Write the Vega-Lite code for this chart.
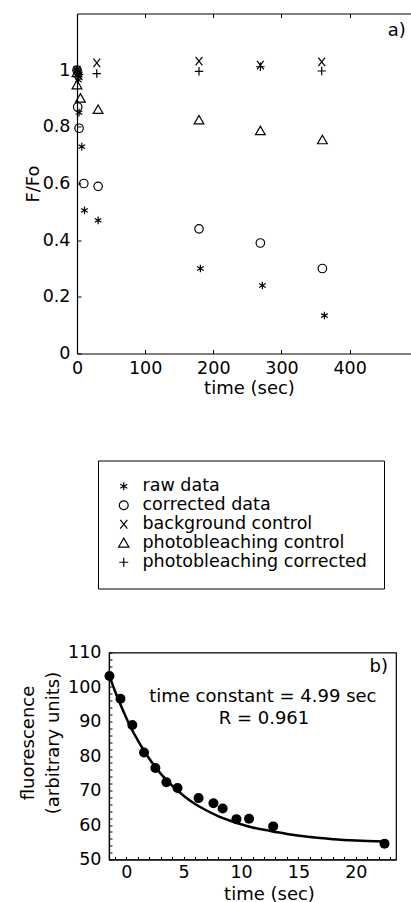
{
  "$schema": "https://vega.github.io/schema/vega-lite/v6.json",
  "background": "white",
  "padding": {"left": 18, "top": 12.5, "right": 0, "bottom": 0},
  "spacing": 245,
  "config": {
    "font": "DejaVu Sans",
    "view": {"stroke": null},
    "axis": {
      "labelFont": "DejaVu Sans", "labelFontSize": 17.5, "labelColor": "black",
      "titleFont": "DejaVu Sans", "titleFontSize": 18, "titleFontWeight": "normal", "titleColor": "black",
      "domainColor": "black", "domainWidth": 1.2, "tickColor": "black", "tickWidth": 1,
      "grid": false, "labelOverlap": false, "labelFlush": false
    }
  },
  "vconcat": [
    {
      "width": 334,
      "height": 340,
      "layer": [
        {
          "data": {"values": [
            {"series": "raw data", "t": 0, "v": 1.0},
            {"series": "raw data", "t": 1, "v": 0.98},
            {"series": "raw data", "t": 2, "v": 0.965},
            {"series": "raw data", "t": 3, "v": 0.85},
            {"series": "raw data", "t": 7, "v": 0.73},
            {"series": "raw data", "t": 11, "v": 0.505},
            {"series": "raw data", "t": 31, "v": 0.47},
            {"series": "raw data", "t": 181, "v": 0.30},
            {"series": "raw data", "t": 272, "v": 0.24},
            {"series": "raw data", "t": 363, "v": 0.134},
            {"series": "corrected data", "t": 0, "v": 1.0},
            {"series": "corrected data", "t": 1, "v": 0.87},
            {"series": "corrected data", "t": 3, "v": 0.795},
            {"series": "corrected data", "t": 10, "v": 0.60},
            {"series": "corrected data", "t": 31, "v": 0.59},
            {"series": "corrected data", "t": 179, "v": 0.44},
            {"series": "corrected data", "t": 269, "v": 0.39},
            {"series": "corrected data", "t": 360, "v": 0.30},
            {"series": "background control", "t": 0, "v": 1.0},
            {"series": "background control", "t": 1, "v": 0.99},
            {"series": "background control", "t": 3, "v": 0.98},
            {"series": "background control", "t": 29, "v": 1.026},
            {"series": "background control", "t": 179, "v": 1.032},
            {"series": "background control", "t": 269, "v": 1.018},
            {"series": "background control", "t": 359, "v": 1.029},
            {"series": "photobleaching control", "t": 0, "v": 0.99},
            {"series": "photobleaching control", "t": 0, "v": 0.947},
            {"series": "photobleaching control", "t": 5, "v": 0.90},
            {"series": "photobleaching control", "t": 31, "v": 0.86},
            {"series": "photobleaching control", "t": 179, "v": 0.823},
            {"series": "photobleaching control", "t": 269, "v": 0.785},
            {"series": "photobleaching control", "t": 360, "v": 0.753},
            {"series": "photobleaching corrected", "t": 0, "v": 1.0},
            {"series": "photobleaching corrected", "t": 1, "v": 0.99},
            {"series": "photobleaching corrected", "t": 3, "v": 0.985},
            {"series": "photobleaching corrected", "t": 29, "v": 0.988},
            {"series": "photobleaching corrected", "t": 179, "v": 0.996},
            {"series": "photobleaching corrected", "t": 269, "v": 1.012},
            {"series": "photobleaching corrected", "t": 359, "v": 0.997}
          ]},
          "mark": {"type": "point", "filled": false, "color": "black", "strokeWidth": 1.2, "size": 72, "opacity": 1},
          "encoding": {
            "x": {
              "field": "t", "type": "quantitative",
              "scale": {"domain": [0, 490], "nice": false, "zero": false},
              "axis": {
                "orient": "bottom", "values": [0, 100, 200, 300, 400], "tickSize": -4, "labelOverlap": false,
                "labelPadding": 10, "title": "time (sec)", "titleX": 172, "titleY": 35, "titleBaseline": "middle"
              }
            },
            "y": {
              "field": "v", "type": "quantitative",
              "scale": {"domain": [0, 1.2], "nice": false, "zero": false},
              "axis": {
                "values": [0, 0.2, 0.4, 0.6, 0.8, 1], "format": "~g", "tickSize": -4, "labelPadding": 11, "labelOverlap": false,
                "title": "F/Fo", "titleX": -44, "titleY": 170, "titleBaseline": "middle", "titleAngle": -90
              }
            },
            "shape": {
              "field": "series", "type": "nominal",
              "scale": {
                "domain": ["raw data", "corrected data", "background control", "photobleaching control", "photobleaching corrected"],
                "range": [
                  "M0,-0.9L0,0.9M-0.78,-0.45L0.78,0.45M-0.78,0.45L0.78,-0.45",
                  "circle",
                  "M-0.8,-1L0.8,1M-0.8,1L0.8,-1",
                  "M0,-1.15L1.15,0.85L-1.15,0.85Z",
                  "M0,-1L0,1M-1,0L1,0"
                ]
              },
              "legend": {
                "orient": "none", "legendX": 21, "legendY": 447, "title": null,
                "strokeColor": "black", "fillColor": "white", "padding": 17,
                "labelFont": "DejaVu Sans", "labelFontSize": 17.5, "labelColor": "black", "labelLimit": 400,
                "labelOffset": 10, "rowPadding": 0,
                "symbolStrokeColor": "black", "symbolStrokeWidth": 1.2, "symbolSize": 80
              }
            }
          }
        },
        {
          "data": {"values": [{"t": 469, "v": 1.14, "label": "a)"}]},
          "mark": {"type": "text", "font": "DejaVu Sans", "fontSize": 18, "color": "black"},
          "encoding": {
            "x": {"field": "t", "type": "quantitative",
                  "axis": {"orient": "top", "values": [100, 200, 300, 400], "labels": false, "title": null, "tickSize": -4}},
            "y": {"field": "v", "type": "quantitative"},
            "text": {"field": "label"}
          }
        }
      ]
    },
    {
      "hconcat": [
        {
          "width": 32,
          "height": 10,
          "data": {"values": [{"label": " "}]},
          "mark": {"type": "text", "color": "white"},
          "encoding": {"text": {"field": "label"}}
        },
        {
          "width": 287,
          "height": 207,
          "view": {"stroke": "black", "strokeWidth": 1.2},
          "encoding": {
            "x": {
              "field": "t", "type": "quantitative",
              "scale": {"domain": [-1.5, 23.5], "nice": false, "zero": false},
              "axis": {
                "values": [-1, 0, 1, 2, 3, 4, 5, 6, 7, 8, 9, 10, 11, 12, 13, 14, 15, 16, 17, 18, 19, 20, 21, 22, 23],
                "labelExpr": "datum.value % 5 === 0 ? datum.label : ''", "labelOverlap": false,
                "tickSize": -3, "labelPadding": 7,
                "title": "time (sec)", "titleX": 160, "titleY": 34.5, "titleBaseline": "middle"
              }
            },
            "y": {
              "field": "f", "type": "quantitative",
              "scale": {"domain": [50, 110], "nice": false, "zero": false},
              "axis": {
                "values": [50, 52, 54, 56, 58, 60, 62, 64, 66, 68, 70, 72, 74, 76, 78, 80, 82, 84, 86, 88, 90, 92, 94, 96, 98, 100, 102, 104, 106, 108, 110],
                "labelExpr": "datum.value % 10 === 0 ? datum.label : ''", "labelOverlap": false,
                "tickSize": -3, "labelPadding": 11,
                "title": ["fluorescence", "(arbitrary units)"], "titleLineHeight": 25,
                "titleX": -81, "titleY": 90, "titleBaseline": "middle", "titleAngle": -90
              }
            }
          },
          "layer": [
            {
              "data": {"values": [
                {"t": -1.5, "f": 103.6}, {"t": -1, "f": 99.0}, {"t": -0.5, "f": 94.9}, {"t": 0, "f": 91.1},
                {"t": 0.5, "f": 87.6}, {"t": 1, "f": 84.6}, {"t": 1.5, "f": 81.8}, {"t": 2, "f": 79.3},
                {"t": 3, "f": 74.9}, {"t": 4, "f": 71.4}, {"t": 5, "f": 68.5}, {"t": 6, "f": 66.1},
                {"t": 7, "f": 64.2}, {"t": 8, "f": 62.6}, {"t": 9, "f": 61.3}, {"t": 10, "f": 60.2},
                {"t": 11, "f": 59.3}, {"t": 12, "f": 58.6}, {"t": 13, "f": 58.0}, {"t": 14, "f": 57.4},
                {"t": 16, "f": 56.5}, {"t": 18, "f": 55.9}, {"t": 20, "f": 55.5}, {"t": 22.5, "f": 55.2}
              ]},
              "mark": {"type": "line", "color": "black", "strokeWidth": 2.5, "interpolate": "monotone"}
            },
            {
              "data": {"values": [
                {"t": -1.46, "f": 103.2}, {"t": -0.5, "f": 96.6}, {"t": 0.53, "f": 89.0}, {"t": 1.55, "f": 81.0},
                {"t": 2.54, "f": 76.5}, {"t": 3.5, "f": 72.4}, {"t": 4.47, "f": 70.7}, {"t": 6.3, "f": 67.8},
                {"t": 7.6, "f": 66.3}, {"t": 8.4, "f": 64.8}, {"t": 9.6, "f": 61.7}, {"t": 10.7, "f": 61.8},
                {"t": 12.8, "f": 59.6}, {"t": 22.5, "f": 54.6}
              ]},
              "mark": {"type": "circle", "color": "black", "size": 100, "opacity": 1}
            },
            {
              "data": {"values": [
                {"t": 22.0, "f": 105.9, "label": "b)"},
                {"t": 11.9, "f": 97.2, "label": "time constant = 4.99 sec"},
                {"t": 12.0, "f": 90.6, "label": "R = 0.961"}
              ]},
              "mark": {"type": "text", "font": "DejaVu Sans", "fontSize": 18, "color": "black"},
              "encoding": {"text": {"field": "label"}}
            }
          ]
        }
      ],
      "spacing": 0,
      "bounds": "flush"
    }
  ]
}
